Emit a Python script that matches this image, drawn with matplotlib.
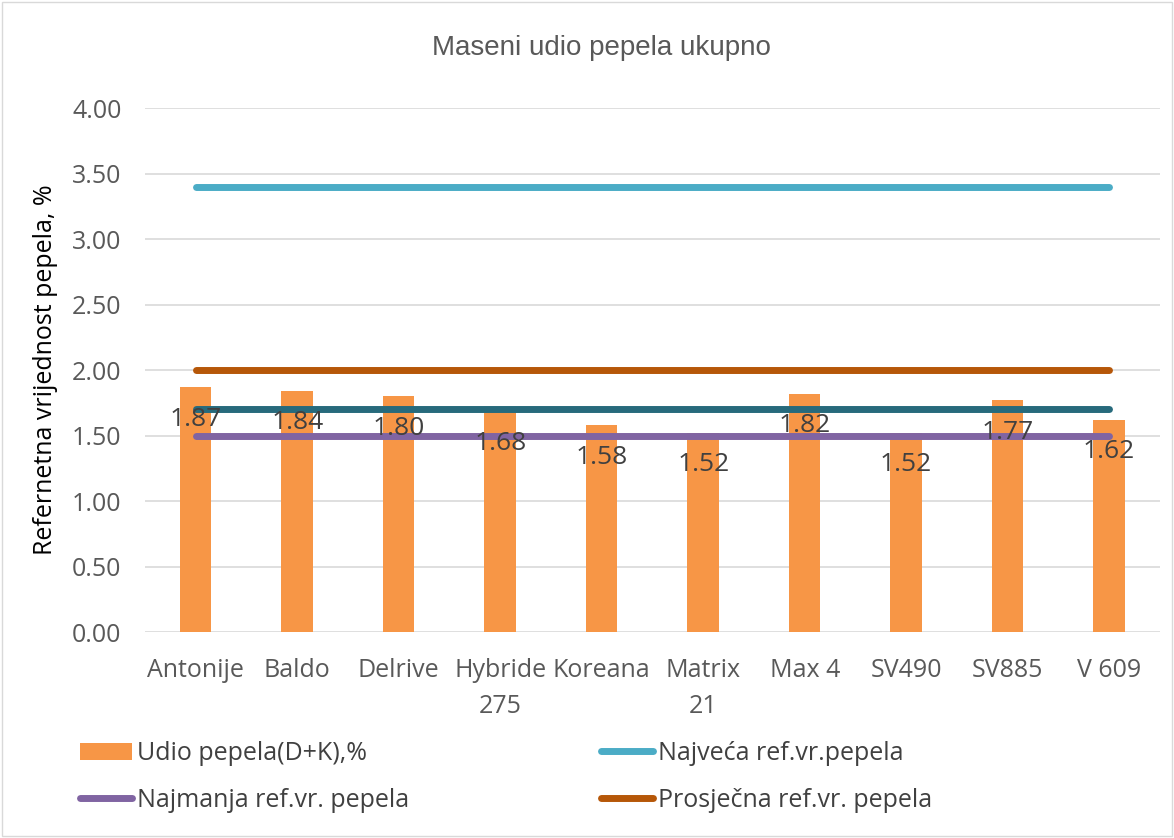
import numpy as np
import matplotlib.pyplot as plt
from matplotlib.patches import Rectangle

plt.rcParams['font.family'] = ['Open Sans', 'DejaVu Sans']

# data
sorte = ['Antonije', 'Baldo', 'Delrive', 'Hybride\n275', 'Koreana', 'Matrix\n21',
         'Max 4', 'SV490', 'SV885', 'V 609']
udio = [1.87, 1.84, 1.80, 1.68, 1.58, 1.52, 1.82, 1.52, 1.77, 1.62]
najveca = [3.40] * 10
najmanja = [1.50] * 10
prosjecna = [2.00] * 10
srednja = [1.70] * 10

x = np.arange(len(sorte))

fig = plt.figure(figsize=(11.74, 8.38), dpi=100)
ax = fig.add_axes([0.1235, 0.2458, 0.8645, 0.6253])

ax.set_axisbelow(True)
ax.yaxis.grid(True, color='#d9d9d9', linewidth=1.2)
for s in ax.spines.values():
    s.set_visible(False)

ax.bar(x, udio, width=0.31, color='#F79646', label='Udio pepela(D+K),%', zorder=2)
ax.plot(x, najveca, color='#4BACC6', lw=5, solid_capstyle='round', label='Najveća ref.vr.pepela', zorder=3)
ax.plot(x, najmanja, color='#8064A2', lw=5, solid_capstyle='round', label='Najmanja ref.vr. pepela', zorder=3)
ax.plot(x, prosjecna, color='#B65708', lw=5, solid_capstyle='round', label='Prosječna ref.vr. pepela', zorder=3)
ax.plot(x, srednja, color='#276A7C', lw=5, solid_capstyle='round', zorder=3)

for xi, v in zip(x, udio):
    ax.annotate(f'{v:.2f}', (xi, v), xytext=(0, -32), textcoords='offset pixels',
                ha='center', va='center', fontsize=19, color='#404040', zorder=4)

ax.set_xlim(-0.5, 9.5)
ax.set_ylim(0, 4)
ax.set_yticks(np.arange(0, 4.01, 0.5))
ax.set_yticklabels([f'{t:.2f}' for t in np.arange(0, 4.01, 0.5)])
ax.set_xticks(x)
ax.set_xticklabels(sorte, linespacing=1.55)
ax.tick_params(axis='y', length=0, labelsize=18, labelcolor='#595959', pad=17)
ax.tick_params(axis='x', length=0, labelsize=18, labelcolor='#595959', pad=19)
ax.set_ylabel('Refernetna vrijednost pepela, %', fontsize=18, color='#000000', labelpad=10)

fig.text(0.512, 0.943, 'Maseni udio pepela ukupno', ha='center', va='center',
         fontsize=20, color='#595959', family='Liberation Sans')

h, l = ax.get_legend_handles_labels()
# column-major fill: col1 = Udio, Najmanja ; col2 = Najveca, Prosjecna
h = [h[3], h[1], h[0], h[2]]
l = [l[3], l[1], l[0], l[2]]
leg = fig.legend(h, l, ncol=2, loc='upper left', bbox_to_anchor=(0.068, 0.1155),
                 frameon=False, fontsize=18, handlelength=2.1, handletextpad=0.2,
                 columnspacing=7.65, labelspacing=0.87, labelcolor='#404040',
                 borderpad=0, borderaxespad=0)

fig.patches.append(Rectangle((0.002, 0.002), 0.996, 0.996, transform=fig.transFigure,
                             fill=False, edgecolor='#d9d9d9', lw=1))

fig.savefig('out.png', dpi=100)
